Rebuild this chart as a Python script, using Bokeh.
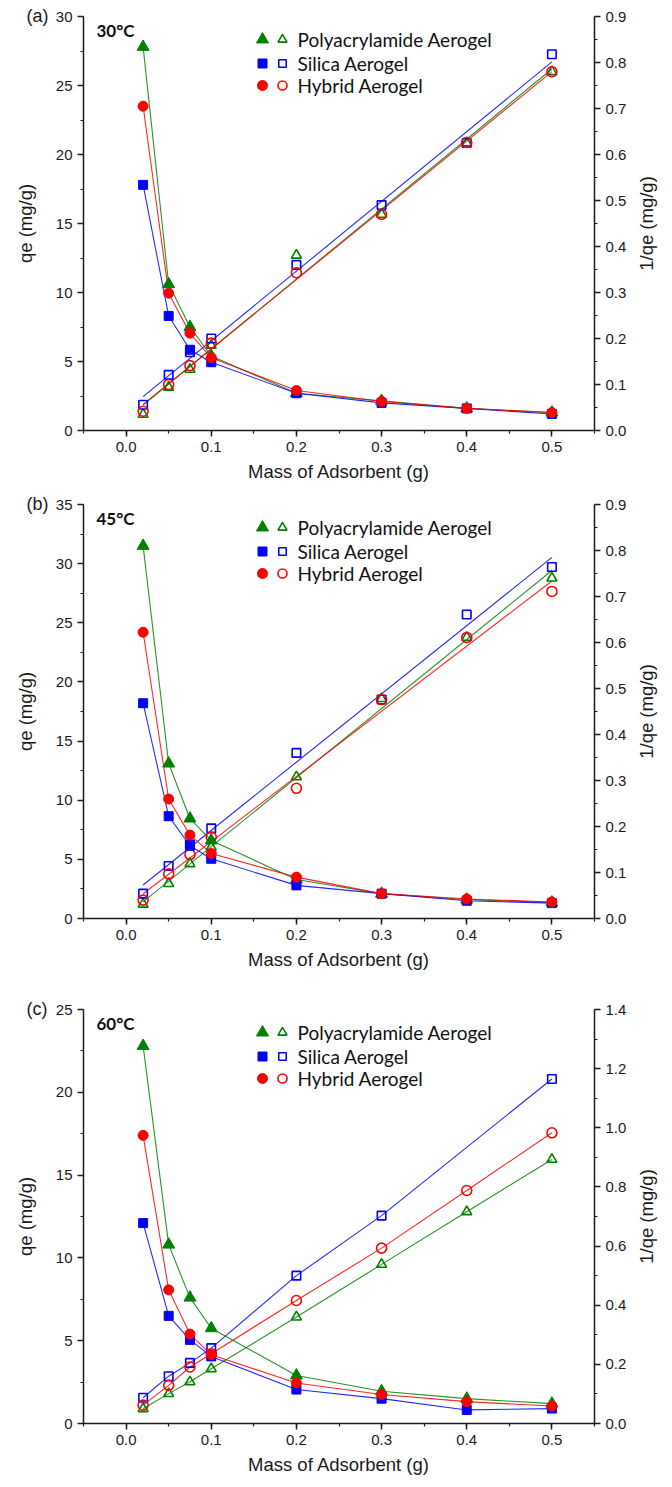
import math
import numpy as np
from bokeh.plotting import figure
from bokeh.models import Range1d, LinearAxis, FixedTicker, PrintfTickFormatter, Label, Title
from bokeh.layouts import column, row
from bokeh.embed import file_html
from bokeh.resources import INLINE

# ---------------- data ----------------
mass = [0.02, 0.05, 0.075, 0.1, 0.2, 0.3, 0.4, 0.5]
series_names = ["Polyacrylamide Aerogel", "Silica Aerogel", "Hybrid Aerogel"]

# 30 C
qe_pam_30 = [27.8, 10.6, 7.5, 5.4, 2.7, 2.15, 1.6, 1.3]
qe_sil_30 = [17.8, 8.3, 5.85, 4.95, 2.7, 2.0, 1.6, 1.2]
qe_hyb_30 = [23.5, 9.95, 7.05, 5.27, 2.9, 2.1, 1.6, 1.3]
inv_pam_30 = [0.035, 0.094, 0.133, 0.185, 0.381, 0.47, 0.625, 0.78]
inv_sil_30 = [0.056, 0.121, 0.17, 0.20, 0.36, 0.49, 0.625, 0.818]
inv_hyb_30 = [0.042, 0.10, 0.141, 0.19, 0.343, 0.47, 0.626, 0.78]

# 45 C
qe_pam_45 = [31.5, 13.1, 8.45, 6.6, 3.3, 2.1, 1.6, 1.35]
qe_sil_45 = [18.2, 8.65, 6.15, 5.05, 2.8, 2.1, 1.5, 1.3]
qe_hyb_45 = [24.2, 10.1, 7.05, 5.5, 3.5, 2.1, 1.65, 1.4]
inv_pam_45 = [0.031, 0.076, 0.119, 0.155, 0.308, 0.478, 0.611, 0.74]
inv_sil_45 = [0.054, 0.114, 0.161, 0.196, 0.36, 0.476, 0.661, 0.764]
inv_hyb_45 = [0.04, 0.097, 0.139, 0.177, 0.283, 0.476, 0.611, 0.711]

# 60 C
qe_pam_60 = [22.8, 10.8, 7.6, 5.75, 2.9, 1.95, 1.5, 1.2]
qe_sil_60 = [12.1, 6.5, 5.05, 4.05, 2.05, 1.5, 0.82, 0.9]
qe_hyb_60 = [17.4, 8.07, 5.4, 4.15, 2.45, 1.75, 1.32, 1.06]
inv_pam_60 = [0.05, 0.101, 0.141, 0.185, 0.36, 0.538, 0.716, 0.893]
inv_sil_60 = [0.087, 0.16, 0.205, 0.255, 0.50, 0.703, None, 1.165]
inv_hyb_60 = [0.062, 0.129, 0.191, 0.236, 0.416, 0.593, 0.788, 0.983]

x_ticks = [0.0, 0.1, 0.2, 0.3, 0.4, 0.5]

# ---------------- styling ----------------
GREEN, BLUE, RED = "#008000", "#0000ff", "#ff0000"
COLORS = [GREEN, BLUE, RED]
FILLED = ["triangle", "square", "circle"]
FILLED_SIZE = [12, 9, 10]
OPEN_SIZE = [10, 8.5, 10]
AX_COL = "#1a1a1a"
TICK_FONT = "Liberation Sans"
LEG_FONT = "Lato"

X0, X1 = -0.05, 0.55
FL = 83          # frame left (px)
FW = 511         # frame width (px)
FH = 414         # frame height (px)
MAIN_W = 633     # main figure width; the rest holds the right-hand axis title
SIDE_W = 672 - MAIN_W


def px2x(px):
    return X0 + (px - FL) / FW * (X1 - X0)


def dy2y(dy, ymax):
    return ymax * (1 - dy / FH)


def style_axis(ax):
    ax.axis_line_width = 1.5
    ax.axis_line_color = AX_COL
    ax.major_tick_line_width = 1.5
    ax.major_tick_line_color = AX_COL
    ax.minor_tick_line_width = 1.2
    ax.minor_tick_line_color = AX_COL
    ax.major_tick_in = 0
    ax.major_tick_out = 6
    ax.minor_tick_in = 0
    ax.minor_tick_out = 3
    ax.major_label_text_font = TICK_FONT
    ax.major_label_text_font_size = "15px"
    ax.major_label_text_color = AX_COL
    ax.axis_label_text_font = TICK_FONT
    ax.axis_label_text_font_size = "18.5px"
    ax.axis_label_text_font_style = "normal"
    ax.axis_label_text_color = AX_COL


def make_title(text, **kw):
    t = Title(text=text, text_font=TICK_FONT, text_font_style="normal",
              text_color=AX_COL, **kw)
    return t


def make_panel(tag, temp, qe, inv, ymax_l, lstep, ymax_r, rstep, fit, height, top, bottom):
    p = figure(width=MAIN_W, height=height, x_range=Range1d(X0, X1), y_range=Range1d(0, ymax_l),
               output_backend="svg", toolbar_location=None,
               min_border_left=FL, min_border_right=MAIN_W - FL - FW,
               min_border_top=top, min_border_bottom=bottom)
    p.outline_line_color = None
    p.xgrid.visible = False
    p.ygrid.visible = False
    p.extra_y_ranges = {"r": Range1d(0, ymax_r)}

    # axes
    xa = p.xaxis[0]
    xa.ticker = FixedTicker(ticks=x_ticks,
                            minor_ticks=[round(-0.05 + 0.05 * i, 3) for i in range(13)])
    xa.formatter = PrintfTickFormatter(format="%.1f")
    xa.axis_label = "Mass of Adsorbent (g)"
    xa.axis_label_standoff = 6
    style_axis(xa)

    ya = p.yaxis[0]
    nl = int(round(ymax_l / lstep))
    ya.ticker = FixedTicker(ticks=[round(lstep * i, 4) for i in range(nl + 1)],
                            minor_ticks=[round(lstep * i / 2, 4) for i in range(2 * nl + 1)])
    ya.formatter = PrintfTickFormatter(format="%d")
    ya.axis_label = "qe (mg/g)"
    ya.axis_label_standoff = 17
    style_axis(ya)

    ra = LinearAxis(y_range_name="r")
    nr = int(round(ymax_r / rstep))
    ra.ticker = FixedTicker(ticks=[round(rstep * i, 4) for i in range(nr + 1)],
                            minor_ticks=[round(rstep * i / 2, 4) for i in range(2 * nr + 1)])
    ra.formatter = PrintfTickFormatter(format="%.1f")
    style_axis(ra)
    p.add_layout(ra, "right")

    # open series (1/qe) - fit lines or connecting lines
    for k in range(3):
        xs = [m for m, v in zip(mass, inv[k]) if v is not None]
        ys = [v for v in inv[k] if v is not None]
        if fit:
            a, b = np.polyfit(xs, ys, 1)
            lx = [xs[0], xs[-1]]
            p.line(lx, [a * v + b for v in lx], y_range_name="r",
                   line_color=COLORS[k], line_width=1.1, line_alpha=0.85)
        else:
            p.line(xs, ys, y_range_name="r", line_color=COLORS[k], line_width=1.1, line_alpha=0.85)

    # filled series (qe) connecting lines
    for k in range(3):
        p.line(mass, qe[k], line_color=COLORS[k], line_width=1.1, line_alpha=0.85)

    # open markers
    for k in range(3):
        xs = [m for m, v in zip(mass, inv[k]) if v is not None]
        ys = [v for v in inv[k] if v is not None]
        p.scatter(xs, ys, y_range_name="r", marker=FILLED[k], size=OPEN_SIZE[k],
                  fill_color=None, line_color=COLORS[k], line_width=1.6)

    # filled markers
    for k in range(3):
        p.scatter(mass, qe[k], marker=FILLED[k], size=FILLED_SIZE[k],
                  fill_color=COLORS[k], line_color=COLORS[k], line_width=1)

    # legend (manual: filled + open marker pairs)
    leg_dy = [23, 47, 69]
    for k in range(3):
        yy = dy2y(leg_dy[k], ymax_l)
        p.scatter([px2x(262)], [yy], marker=FILLED[k], size=FILLED_SIZE[k],
                  fill_color=COLORS[k], line_color=COLORS[k])
        p.scatter([px2x(282)], [yy], marker=FILLED[k], size=OPEN_SIZE[k] - 1,
                  fill_color=None, line_color=COLORS[k], line_width=1.6)
        p.add_layout(Label(x=px2x(297), y=yy, text=series_names[k],
                           text_align="left", text_baseline="middle",
                           text_font=LEG_FONT, text_font_size="19px", text_color="#111111"))

    # panel tag as a title above, pulled left and down next to the axis top
    t = make_title(tag, align="left", offset=-57, text_font_size="18px")
    try:
        t.standoff = -18
    except Exception:
        t.standoff = 0
    p.add_layout(t, "above")

    p.add_layout(Label(x=px2x(96), y=dy2y(14, ymax_l), text=temp,
                       text_align="left", text_baseline="middle",
                       text_font=LEG_FONT, text_font_size="17px", text_font_style="bold",
                       text_color="#111111"))

    # narrow companion figure carrying the right-hand axis title (reads bottom-to-top)
    s = figure(width=SIDE_W, height=height, x_range=Range1d(0, 1), y_range=Range1d(0, 1),
               output_backend="svg", toolbar_location=None,
               x_axis_location=None, y_axis_location=None,
               min_border_left=0, min_border_right=0,
               min_border_top=top, min_border_bottom=bottom)
    s.outline_line_color = None
    s.xgrid.visible = False
    s.ygrid.visible = False
    s.add_layout(make_title("1/qe (mg/g)", align="center", standoff=0,
                            text_font_size="18.5px"), "left")
    return row(p, s, spacing=0)


pa = make_panel("(a)", "30\u00b0C", [qe_pam_30, qe_sil_30, qe_hyb_30],
                [inv_pam_30, inv_sil_30, inv_hyb_30], 30, 5, 0.9, 0.1, True, 490, 16, 60)
pb = make_panel("(b)", "45\u00b0C", [qe_pam_45, qe_sil_45, qe_hyb_45],
                [inv_pam_45, inv_sil_45, inv_hyb_45], 35, 5, 0.9, 0.1, True, 488, 14, 60)
pc = make_panel("(c)", "60\u00b0C", [qe_pam_60, qe_sil_60, qe_hyb_60],
                [inv_pam_60, inv_sil_60, inv_hyb_60], 25, 5, 1.4, 0.2, False, 509, 31, 64)

layout = column(pa, pb, pc, spacing=0)
open("out.html", "w").write(file_html(layout, INLINE))
